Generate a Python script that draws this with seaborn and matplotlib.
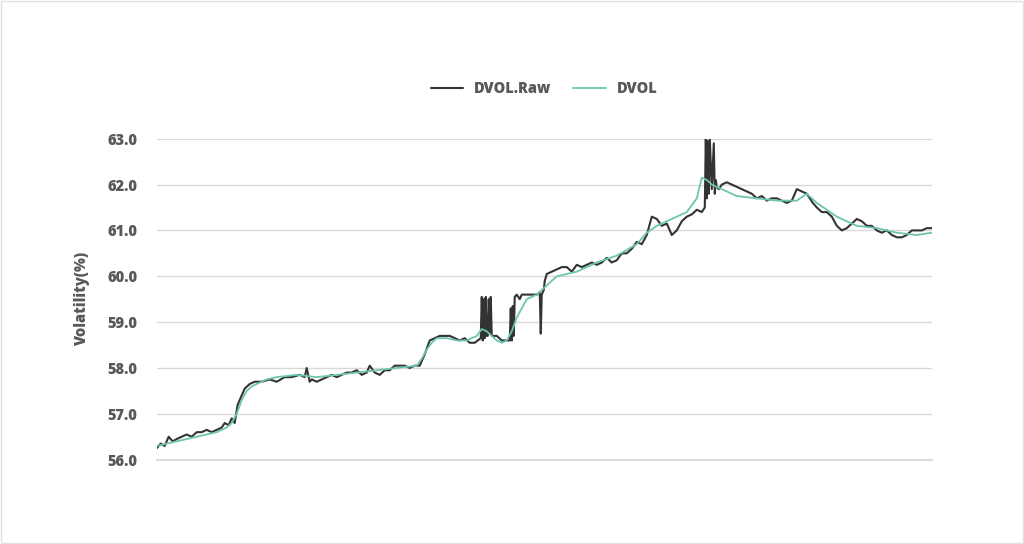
import matplotlib
matplotlib.use("Agg")
import matplotlib.pyplot as plt
import seaborn as sns
import pandas as pd

raw_points = [
 (0,56.25),(4,56.35),(8,56.3),(12,56.5),(16,56.4),(20,56.45),(25,56.5),(30,56.55),(35,56.5),(40,56.6),
 (45,56.6),(50,56.65),(55,56.6),(60,56.65),(65,56.7),(68,56.8),(72,56.75),(75,56.9),(78,56.8),(81,57.2),
 (84,57.35),(88,57.55),(93,57.65),(98,57.7),(105,57.7),(113,57.75),(120,57.7),(128,57.8),(135,57.8),(143,57.85),
 (148,57.8),(150,58.0),(153,57.7),(155,57.75),(160,57.7),(165,57.75),(170,57.8),(175,57.85),(180,57.8),(185,57.85),
 (190,57.9),(195,57.9),(200,57.95),(205,57.85),(210,57.9),(213,58.05),(218,57.9),(223,57.85),(228,57.95),(233,57.95),
 (238,58.05),(243,58.05),(248,58.05),(253,58.0),(258,58.05),(263,58.05),(268,58.3),(273,58.6),(278,58.65),(283,58.7),
 (288,58.7),(293,58.7),(298,58.65),(303,58.6),(308,58.65),(313,58.55),(318,58.55),(321,58.6),(324,58.65),
 (325,59.55),(326,58.6),(327,59.5),(328,58.65),(329,59.55),(330,58.7),(331,58.7),(332,59.5),(333,58.75),(334,59.55),(335,58.7),
 (340,58.7),(345,58.6),(350,58.6),(353,58.6),(354,59.3),(355,58.6),(356,59.35),(357,58.7),(358,59.55),(360,59.6),
 (363,59.5),(365,59.6),(370,59.6),(375,59.6),(380,59.6),(383,59.65),(384,58.75),(385,59.6),(386,59.65),(387,59.7),
 (388,59.9),(390,60.05),(395,60.1),(400,60.15),(405,60.2),(410,60.2),(415,60.1),(420,60.25),(425,60.2),(430,60.25),
 (435,60.3),(440,60.25),(445,60.3),(450,60.4),(455,60.3),(460,60.35),(465,60.5),(470,60.5),(475,60.6),(480,60.75),
 (485,60.7),(490,60.9),(495,61.3),(500,61.25),(505,61.1),(510,61.15),(515,60.9),(520,61.0),(525,61.2),(530,61.3),
 (535,61.35),(540,61.45),(545,61.4),(548,61.5),(549,63.0),(550,61.7),(551,62.95),(552,61.8),(553,63.0),(555,61.9),
 (557,62.9),(558,61.8),(559,62.1),(560,61.95),(562,61.9),(565,62.0),(570,62.05),(575,62.0),(580,61.95),(585,61.9),
 (590,61.85),(595,61.8),(600,61.7),(605,61.75),(610,61.65),(615,61.7),(620,61.7),(625,61.65),(630,61.6),(635,61.65),
 (640,61.9),(645,61.85),(650,61.8),(653,61.7),(656,61.6),(660,61.5),(665,61.4),(670,61.4),(675,61.3),(680,61.1),
 (685,61.0),(690,61.05),(695,61.15),(700,61.25),(705,61.2),(710,61.1),(715,61.1),(720,61.0),(725,60.95),(730,61.0),
 (735,60.9),(740,60.85),(745,60.85),(750,60.9),(755,61.0),(760,61.0),(765,61.0),(770,61.05),(775,61.05)]
raw_t = [p[0] for p in raw_points]
raw_v = [p[1] for p in raw_points]

sm_t = [0,20,40,60,70,75,80,85,90,95,100,110,120,140,160,180,200,220,240,260,265,270,275,280,290,300,310,320,325,330,335,340,345,350,355,360,365,370,380,390,400,420,440,460,480,490,500,510,520,530,540,545,550,555,560,565,570,580,600,620,640,650,660,670,680,690,700,720,740,760,775]
sm_v = [56.3,56.4,56.5,56.6,56.7,56.8,57.0,57.3,57.5,57.6,57.65,57.75,57.8,57.85,57.8,57.85,57.9,57.95,58.0,58.05,58.2,58.4,58.55,58.65,58.65,58.6,58.6,58.7,58.85,58.8,58.7,58.6,58.55,58.6,58.8,59.1,59.3,59.5,59.6,59.8,60.0,60.1,60.3,60.45,60.7,60.95,61.1,61.2,61.3,61.4,61.7,62.15,62.1,62.0,61.95,61.9,61.85,61.75,61.7,61.65,61.65,61.8,61.6,61.45,61.3,61.2,61.1,61.05,60.95,60.9,60.95]

df_raw = pd.DataFrame({"t": raw_t, "v": raw_v})
df_sm = pd.DataFrame({"t": sm_t, "v": sm_v})

sns.set_theme(style="white")
plt.rcParams['font.family'] = ['Open Sans', 'DejaVu Sans']
fig = plt.figure(figsize=(10.24, 5.44), dpi=100)
ax = fig.add_axes([0.153, 0.155, 0.757, 0.59])
sns.lineplot(data=df_raw, x="t", y="v", ax=ax, color="#333333", lw=1.5, label="DVOL.Raw", sort=False)
sns.lineplot(data=df_sm, x="t", y="v", ax=ax, color="#6cc5b0", lw=1.3, label="DVOL", sort=False)
ax.set_xlim(0, 775)
ax.set_ylim(56.0, 63.0)
ax.set_yticks([56,57,58,59,60,61,62,63])
ax.set_yticklabels([f"{v:.1f}" for v in range(56,64)], fontsize=10.5, fontweight="heavy", color="#595959")
ax.set_xticks([])
ax.set_xlabel("")
ax.set_ylabel("Volatility(%)", fontsize=10.5, fontweight="heavy", color="#595959", labelpad=12)
ax.grid(axis="y", color="#d9d9d9", lw=1)
for s in ["top", "right", "left"]:
    ax.spines[s].set_visible(False)
ax.spines["bottom"].set_color("#d9d9d9")
ax.tick_params(axis="y", length=0, pad=14)
leg = ax.legend(loc="lower center", bbox_to_anchor=(0.5, 1.09), ncol=2, frameon=False,
                prop={"weight": "heavy", "size": 10.5}, handlelength=2.2, columnspacing=1.5)
for t in leg.get_texts():
    t.set_color("#595959")
fig.patches.append(plt.Rectangle((0.001, 0.001), 0.998, 0.998, transform=fig.transFigure,
                                 fill=False, edgecolor="#e0e0e0", lw=1))
fig.savefig("out.png", dpi=100)
